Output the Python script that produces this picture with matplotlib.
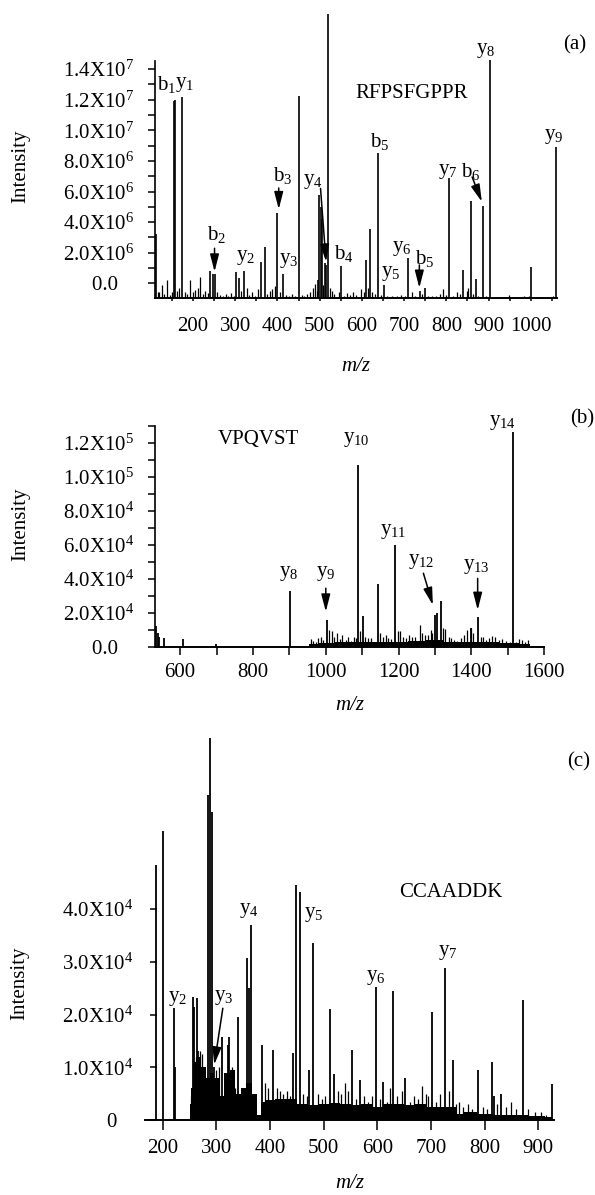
import numpy as np
import matplotlib.pyplot as plt
from matplotlib.ticker import MultipleLocator

plt.rcParams['font.family'] = ['Liberation Serif', 'DejaVu Serif']
plt.rcParams['mathtext.fontset'] = 'custom'
plt.rcParams['mathtext.rm'] = 'Liberation Serif'
plt.rcParams['mathtext.it'] = 'Liberation Serif:italic'
plt.rcParams['font.size'] = 15

# ==========================================
# data
# ==========================================
# (a) RFPSFGPPR, intensity in 1e6
a_mz = [112, 155.5, 157, 174.5, 241, 247, 251, 303, 309, 320.5, 362, 370, 398, 414,
        450, 497, 499, 503, 506, 512, 515, 519, 551, 610, 620, 638, 652, 709.7, 737,
        749, 806.7, 839.8, 858, 869.8, 885.6, 903, 1000, 1059.5]
a_int = [3.2, 11.9, 12.0, 12.2, 0.82, 0.62, 0.6, 0.74, 0.35, 0.82, 1.41, 2.35, 4.6, 0.59,
         12.24, 0.2, 5.8, 5.0, 4.2, 1.3, 1.2, 17.6, 1.13, 1.52, 3.53, 8.5, -0.1, 1.63, -0.5,
         -0.33, 6.86, 0.87, 5.4, 0.26, 5.05, 14.6, 1.09, 8.93]
a_noise_mz = [116, 120, 126, 131, 138, 145, 150, 163, 168, 181, 186, 193, 199, 205, 211,
              217, 223, 229, 235, 258, 263, 270, 277, 283, 290, 296, 314, 327, 333, 340,
              347, 353, 376, 382, 388, 393, 405, 420, 427, 434, 441, 458, 464, 471, 478,
              485, 490, 494, 509, 524, 529, 535, 545, 558, 565, 572, 579, 586, 598, 604,
              615, 625, 632, 645, 660, 672, 684, 693, 701, 718, 726, 742, 756, 765, 775,
              786, 791, 798, 815, 824, 832, 848, 852, 864, 875, 893, 912, 925, 948, 962,
              985, 995, 1012, 1040, 1052]
a_noise_int = [-0.55, -0.6, -0.1, -0.7, 0.2, -0.75, -0.6, -0.5, -0.3, -0.55, -0.7, 0.2,
               -0.6, -0.45, -0.3, 0.43, -0.7, -0.5, -0.65, -0.6, -0.75, -0.8, -0.7, -0.8,
               -0.65, -0.85, -0.5, -0.3, -0.75, -0.6, -0.8, -0.4, -0.7, -0.5, -0.35, -0.2,
               -0.6, -0.75, -0.8, -0.7, -0.85, -0.75, -0.8, -0.7, -0.55, -0.3, -0.05, -0.5,
               -0.1, -0.3, -0.5, -0.7, -0.6, -0.8, -0.65, -0.75, -0.6, -0.75, -0.4, -0.55,
               -0.3, -0.6, -0.7, -0.75, -0.85, -0.85, -0.8, -0.75, -0.85, -0.6, -0.8,
               -0.7, -0.8, -0.85, -0.8, -0.7, -0.4, -0.75, -0.8, -0.6, -0.7, -0.5, -0.3,
               -0.7, -0.8, -0.85, -0.9, -0.88, -0.75, -0.9, -0.8, -0.85, -0.9, -0.9, -0.85]
a_base = -0.98

# (b) VPQVST, intensity in 1e4
b_mz = [534, 539, 543, 556, 609, 699, 901, 1002, 1088, 1101, 1143, 1190, 1299, 1306,
        1315, 1398, 1417, 1513]
b_int = [1.2, 0.8, 0.6, 0.5, 0.45, 0.15, 3.3, 1.55, 10.7, 1.8, 3.7, 6.0, 1.85, 2.0,
         2.7, 1.1, 1.76, 12.6]
b_noise_mz = [958, 965, 972, 979, 986, 993, 1010, 1016, 1023, 1030, 1038, 1045, 1055,
              1062, 1070, 1078, 1083, 1094, 1108, 1115, 1125, 1132, 1150, 1158, 1165,
              1172, 1180, 1198, 1205, 1212, 1220, 1228, 1236, 1245, 1258, 1265, 1272,
              1280, 1288, 1292, 1322, 1328, 1337, 1345, 1352, 1360, 1370, 1380, 1388,
              1398, 1405, 1425, 1432, 1440, 1448, 1456, 1465, 1475, 1485, 1495, 1505,
              1522, 1530, 1540, 1548, 1556]
b_noise_int = [0.45, 0.35, 0.25, 0.5, 0.55, 0.4, 1.0, 0.9, 0.6, 0.8, 0.45, 0.7, 0.4,
               0.6, 0.35, 0.6, 0.5, 0.9, 0.6, 0.5, 0.5, 0.3, 0.8, 0.6, 0.7, 0.5, 0.45,
               0.95, 0.9, 0.6, 0.5, 0.7, 0.6, 0.55, 1.25, 0.8, 0.7, 0.7, 1.0, 0.8, 1.1,
               1.05, 0.6, 0.5, 0.4, 0.35, 0.5, 0.7, 1.0, 1.1, 0.8, 0.55, 0.6, 0.4, 0.5,
               0.65, 0.55, 0.4, 0.45, 0.35, 0.3, 0.3, 0.45, 0.4, 0.3, 0.4]
b_env_mz = [955, 1000, 1050, 1100, 1150, 1200, 1250, 1300, 1350, 1400, 1450, 1500, 1560]
b_env_int = [0.15, 0.2, 0.25, 0.3, 0.25, 0.3, 0.35, 0.4, 0.3, 0.3, 0.25, 0.2, 0.15]

# (c) CCAADDK, intensity in 1e4
c_mz = [186.8, 201, 220.7, 222, 256, 258, 264.5, 266, 278.8, 284.4, 289, 291.5, 296,
        310.5, 321, 324, 341, 356.5, 360, 363.6, 384.8, 404.6, 443.5, 448.4, 455.5,
        473, 480, 512, 519, 553, 567, 597, 611, 629, 652, 701.7, 726.5, 740, 788, 813,
        818, 831, 871, 926]
c_int = [4.84, 5.49, 2.12, 1.0, 2.34, 2.15, 2.31, 1.3, 1.01, 6.17, 7.24, 5.85, 1.0,
         1.58, 1.42, 1.58, 1.95, 3.07, 2.5, 3.7, 1.42, 1.33, 1.28, 4.46, 4.33, 0.95,
         3.36, 2.1, 0.88, 1.32, 0.76, 2.53, 0.73, 2.44, 0.79, 2.05, 2.88, 1.14, 0.95,
         1.1, 0.45, 0.5, 2.28, 0.69]
c_noise_mz = [252, 262, 270, 274, 300, 305, 316, 330, 334, 347, 370, 390, 396, 412, 418,
              425, 432, 438, 462, 468, 490, 497, 503, 526, 533, 540, 546, 560, 575, 583,
              590, 604, 618, 623, 636, 645, 660, 668, 676, 684, 690, 695, 710, 716, 733,
              746, 752, 760, 768, 776, 796, 805, 823, 840, 848, 858, 880, 893, 905, 915]
c_noise_int = [0.45, 1.2, 1.3, 1.25, 0.95, 1.0, 0.7, 1.0, 0.6, 0.5, 0.45, 0.7, 0.6, 0.6,
               0.55, 0.5, 0.55, 0.45, 0.5, 0.45, 0.5, 0.4, 0.45, 0.55, 0.5, 0.7, 0.55,
               0.4, 0.45, 0.35, 0.45, 0.4, 0.35, 0.6, 0.45, 0.55, 0.35, 0.45, 0.4, 0.65,
               0.5, 0.45, 0.35, 0.5, 0.55, 0.3, 0.35, 0.25, 0.3, 0.2, 0.25, 0.2, 0.3,
               0.25, 0.35, 0.2, 0.2, 0.15, 0.15, 0.1]
c_env_mz = [250, 256, 262, 268, 276, 285, 290, 300, 310, 320, 330, 340, 350, 360, 372,
            380, 386, 400, 420, 440, 460, 480, 500, 520, 540, 560, 580, 600, 620, 640,
            660, 680, 700, 720, 740, 752, 770, 800, 830, 860, 900, 925]
c_env_int = [0.3, 0.6, 1.1, 1.2, 1.0, 0.8, 0.9, 0.8, 0.45, 0.9, 0.95, 0.5, 0.6, 0.7,
             0.5, 0.1, 0.35, 0.38, 0.4, 0.4, 0.3, 0.28, 0.3, 0.32, 0.3, 0.28, 0.3, 0.25,
             0.3, 0.3, 0.28, 0.3, 0.25, 0.25, 0.25, 0.12, 0.15, 0.12, 0.1, 0.1, 0.08, 0.05]

# labels: (text, x, y) in data units, arrows: (x0, y0, x1, y1)
a_labels = [("b$_1$", 138, 12.97), ("y$_1$", 180, 12.97), ("RFPSFGPPR", 718, 12.4),
            ("y$_8$", 893, 15.25), ("b$_5$", 641, 9.25), ("y$_9$", 1054, 9.6),
            ("y$_7$", 803, 7.3), ("b$_6$", 857, 7.3), ("b$_3$", 412, 7.08),
            ("y$_4$", 484, 6.64), ("b$_2$", 255, 3.16), ("y$_2$", 325, 1.7),
            ("y$_3$", 427, 1.52), ("b$_4$", 556, 1.96), ("y$_5$", 669, 0.61),
            ("y$_6$", 695, 2.29), ("b$_5$", 749, 1.63)]
a_arrows = [(861, 6.95, 884, 5.33), (403, 6.23, 403, 4.84), (502, 6.2, 515, 1.41),
            (251, 2.29, 251, 0.76), (736, 1.2, 736, -0.3)]
b_labels = [("y$_{14}$", 1484, 13.2), ("VPQVST", 814, 12.2), ("y$_{10}$", 1085, 12.2),
            ("y$_{11}$", 1185, 6.76), ("y$_8$", 898, 4.32), ("y$_9$", 1000, 4.32),
            ("y$_{12}$", 1262, 5.0), ("y$_{13}$", 1414, 4.7)]
b_arrows = [(1000, 3.44, 1000, 2.06), (1268, 4.32, 1294, 2.45), (1417, 4.02, 1417, 2.16)]
c_labels = [("CCAADDK", 737, 4.31), ("y$_2$", 228, 2.31), ("y$_3$", 314, 2.33),
            ("y$_4$", 360, 3.98), ("y$_5$", 482, 3.89), ("y$_6$", 597, 2.71),
            ("y$_7$", 731, 3.17)]
c_arrows = [(312, 2.12, 296, 1.05)]

a_yticks = [0, 2, 4, 6, 8, 10, 12, 14]
a_yticklabels = ["0.0   ", "2.0X10$^6$", "4.0X10$^6$", "6.0X10$^6$", "8.0X10$^6$",
                 "1.0X10$^7$", "1.2X10$^7$", "1.4X10$^7$"]
b_yticks = [0, 2, 4, 6, 8, 10, 12]
b_yticklabels = ["0.0   ", "2.0X10$^4$", "4.0X10$^4$", "6.0X10$^4$", "8.0X10$^4$",
                 "1.0X10$^5$", "1.2X10$^5$"]
c_yticks = [0, 1, 2, 3, 4]
c_yticklabels = ["0   ", "1.0X10$^4$", "2.0X10$^4$", "3.0X10$^4$", "4.0X10$^4$"]

W, H = 595, 1195


def make_axes(fig, left, right, top, bottom):
    """pixel box -> figure fraction axes"""
    return fig.add_axes([left / W, 1 - bottom / H, (right - left) / W, (bottom - top) / H])


def style(ax):
    for s in ['top', 'right']:
        ax.spines[s].set_visible(False)
    ax.spines['left'].set_linewidth(1.2)
    ax.spines['bottom'].set_linewidth(1.4)
    ax.tick_params(which='both', direction='out', width=1.1, labelsize=15)


def put_labels(ax, labels, arrows):
    for txt, x, y in labels:
        ax.text(x, y, txt, ha='center', va='center', fontsize=15, clip_on=False)
    for x0, y0, x1, y1 in arrows:
        ax.annotate('', xy=(x1, y1), xytext=(x0, y0), annotation_clip=False,
                    arrowprops=dict(arrowstyle='-|>,head_length=0.7,head_width=0.18',
                                    color='k', lw=1.1, shrinkA=0, shrinkB=0))


fig = plt.figure(figsize=(W / 100, H / 100), dpi=100)

# ---------------- (a)
ax1 = make_axes(fig, 155, 557, 61.5, 298.3)
ax1.set_xlim(110, 1062)
ax1.set_ylim(a_base, 14.5)
ax1.vlines(a_noise_mz, a_base, a_noise_int, colors='k', lw=0.9)
ax1.vlines(a_mz, a_base, a_int, colors='k', lw=1.2, clip_on=False)
style(ax1)
ax1.set_yticks(a_yticks)
ax1.set_yticklabels(a_yticklabels)
ax1.yaxis.set_minor_locator(MultipleLocator(1))
ax1.set_xticks([200, 300, 400, 500, 600, 700, 800, 900, 1000])
ax1.xaxis.set_minor_locator(MultipleLocator(50))
ax1.tick_params(axis='y', which='both', length=5, pad=10)
ax1.tick_params(axis='x', which='both', length=2.5, pad=11)
ax1.set_ylabel("Intensity", fontsize=15)
ax1.yaxis.set_label_coords(-0.311, 0.559)
ax1.set_xlabel("m/z", style='italic', fontsize=15, labelpad=15)
put_labels(ax1, a_labels, a_arrows)
ax1.text(1104, 15.6, "(a)", ha='center', va='center', fontsize=15, clip_on=False)

# ---------------- (b)
ax2 = make_axes(fig, 155, 544.3, 425.7, 646.7)
ax2.set_xlim(531, 1600)
ax2.set_ylim(0, 13)
ax2.fill_between(b_env_mz, 0, b_env_int, color='k', lw=0, step='mid')
ax2.vlines(b_noise_mz, 0, b_noise_int, colors='k', lw=0.9)
ax2.vlines(b_mz, 0, b_int, colors='k', lw=1.3, clip_on=False)
style(ax2)
ax2.set_yticks(b_yticks)
ax2.set_yticklabels(b_yticklabels)
ax2.yaxis.set_minor_locator(MultipleLocator(1))
ax2.set_xticks([600, 800, 1000, 1200, 1400, 1600])
ax2.xaxis.set_minor_locator(MultipleLocator(100))
ax2.tick_params(axis='y', which='both', length=5, pad=10)
ax2.tick_params(axis='x', which='both', length=6, pad=6)
ax2.set_ylabel("Intensity", fontsize=15)
ax2.yaxis.set_label_coords(-0.321, 0.555)
ax2.set_xlabel("m/z", style='italic', fontsize=15, labelpad=10)
put_labels(ax2, b_labels, b_arrows)
ax2.text(1705, 13.4, "(b)", ha='center', va='center', fontsize=15, clip_on=False)

# ---------------- (c)
ax3 = make_axes(fig, 145, 554, 730, 1120)
ax3.set_xlim(167, 929)
ax3.set_ylim(0, 7.4)
ax3.fill_between(c_env_mz, 0, c_env_int, color='k', lw=0, step='mid')
ax3.vlines(c_noise_mz, 0, c_noise_int, colors='k', lw=0.9)
ax3.vlines(c_mz, 0, c_int, colors='k', lw=1.3, clip_on=False)
style(ax3)
ax3.spines['left'].set_position(('data', 189))
ax3.spines['left'].set_visible(False)
ax3.set_yticks(c_yticks)
ax3.set_yticklabels(c_yticklabels)
ax3.set_xticks([200, 300, 400, 500, 600, 700, 800, 900])
ax3.tick_params(axis='y', which='both', length=5, pad=12)
ax3.tick_params(axis='x', which='both', length=7, pad=7)
ax3.set_ylabel("Intensity", fontsize=15)
ax3.yaxis.set_label_coords(-0.284, 0.351)
ax3.set_xlabel("m/z", style='italic', fontsize=15, labelpad=11)
put_labels(ax3, c_labels, c_arrows)
ax3.text(975, 6.8, "(c)", ha='center', va='center', fontsize=15, clip_on=False)

fig.savefig("out.png", dpi=100)
